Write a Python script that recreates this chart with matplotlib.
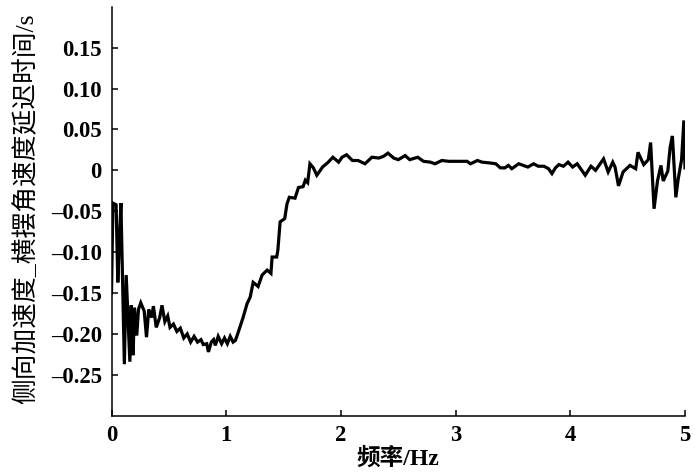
import numpy as np
import matplotlib
matplotlib.use("Agg")
import matplotlib.pyplot as plt

# frequency (Hz) and delay (s)
freq = [
    0.000, 0.012, 0.040, 0.055, 0.068, 0.082, 0.112, 0.128, 0.160, 0.172,
    0.188, 0.200, 0.220, 0.235, 0.255, 0.285, 0.305, 0.325, 0.350, 0.365,
    0.390, 0.420, 0.440, 0.465, 0.490, 0.510, 0.540, 0.570, 0.600, 0.630,
    0.660, 0.690, 0.720, 0.750, 0.780, 0.800, 0.830, 0.845, 0.870, 0.890,
    0.905, 0.930, 0.960, 0.985, 1.010, 1.035, 1.060, 1.080, 1.100, 1.147,
    1.182, 1.209, 1.235, 1.278, 1.313, 1.357, 1.390, 1.400, 1.440, 1.450,
    1.470, 1.510, 1.530, 1.550, 1.600, 1.630, 1.670, 1.690, 1.710, 1.730,
    1.760, 1.790, 1.840, 1.890, 1.930, 1.980, 2.010, 2.050, 2.100, 2.150,
    2.210, 2.270, 2.330, 2.370, 2.410, 2.460, 2.500, 2.560, 2.600, 2.670,
    2.720, 2.780, 2.820, 2.880, 2.940, 3.020, 3.100, 3.130, 3.190, 3.230,
    3.300, 3.350, 3.390, 3.430, 3.460, 3.490, 3.550, 3.590, 3.630, 3.680,
    3.720, 3.770, 3.810, 3.840, 3.870, 3.900, 3.940, 3.980, 4.020, 4.060,
    4.130, 4.180, 4.220, 4.260, 4.290, 4.330, 4.370, 4.390, 4.420, 4.460,
    4.520, 4.570, 4.590, 4.640, 4.680, 4.700, 4.730, 4.760, 4.790, 4.810,
    4.850, 4.870, 4.890, 4.920, 4.940, 4.970, 4.990, 5.000,
]
delay = [
    -0.150, -0.040, -0.042, -0.137, -0.088, -0.040, -0.237, -0.128, -0.234, -0.165,
    -0.226, -0.168, -0.202, -0.170, -0.162, -0.172, -0.204, -0.170, -0.180, -0.166,
    -0.192, -0.180, -0.165, -0.185, -0.178, -0.192, -0.188, -0.197, -0.193, -0.205,
    -0.200, -0.210, -0.203, -0.210, -0.207, -0.213, -0.212, -0.222, -0.210, -0.207,
    -0.214, -0.203, -0.212, -0.205, -0.212, -0.203, -0.210, -0.208, -0.200, -0.180,
    -0.163, -0.155, -0.137, -0.142, -0.128, -0.122, -0.126, -0.106, -0.106, -0.098,
    -0.063, -0.059, -0.041, -0.033, -0.034, -0.021, -0.020, -0.012, -0.015, 0.008,
    0.003, -0.006, 0.004, 0.010, 0.016, 0.010, 0.016, 0.019, 0.012, 0.012,
    0.008, 0.016, 0.015, 0.017, 0.021, 0.015, 0.013, 0.018, 0.013, 0.016,
    0.011, 0.010, 0.008, 0.012, 0.011, 0.011, 0.011, 0.008, 0.012, 0.010,
    0.009, 0.008, 0.003, 0.003, 0.006, 0.002, 0.008, 0.006, 0.004, 0.008,
    0.005, 0.005, 0.002, -0.004, 0.003, 0.007, 0.005, 0.010, 0.004, 0.008,
    -0.006, 0.005, 0.000, 0.008, 0.014, -0.002, 0.010, 0.004, -0.019, -0.002,
    0.006, 0.002, 0.022, 0.007, 0.013, 0.034, -0.047, -0.013, 0.006, -0.013,
    -0.001, 0.028, 0.042, -0.033, -0.011, 0.013, 0.061, 0.003,
]

yticks = [-0.25, -0.20, -0.15, -0.10, -0.05, 0, 0.05, 0.10, 0.15]
xticks = [0, 1, 2, 3, 4, 5]

serif = ['Liberation Serif', 'Noto Sans CJK SC']

fig = plt.figure(figsize=(7, 4.73), dpi=100)
ax = fig.add_axes([0.1593, 0.1211, 0.8193, 0.8647])

ax.plot(freq, delay, color='black', linewidth=2.3, solid_joinstyle='miter')

ax.set_xlim(0, 5)
ax.set_ylim(-0.3, 0.2)
ax.set_xticks(xticks)
ax.set_yticks(yticks)
ax.set_xticklabels([str(t) for t in xticks])
ax.set_yticklabels(['0' if t == 0 else f"{t:.2f}".replace('-', '\u2013') for t in yticks])

for side in ['top', 'right']:
    ax.spines[side].set_visible(False)
for side in ['left', 'bottom']:
    ax.spines[side].set_linewidth(1.1)

ax.tick_params(direction='in', length=4, width=1.1, pad=7)
for lab in ax.get_xticklabels() + ax.get_yticklabels():
    lab.set_family('Liberation Serif')
    lab.set_fontweight('bold')
    lab.set_fontsize(16.3)

ax.set_ylabel('侧向加速度_横摆角速度延迟时间/s', family=serif, fontsize=18.5)
ax.set_xlabel('频率/Hz', family=serif, fontsize=17, fontweight='bold')
ax.yaxis.set_label_coords(-0.128, 0.505)
ax.xaxis.set_label_coords(0.5, -0.078)

fig.savefig('out.png', dpi=100)
